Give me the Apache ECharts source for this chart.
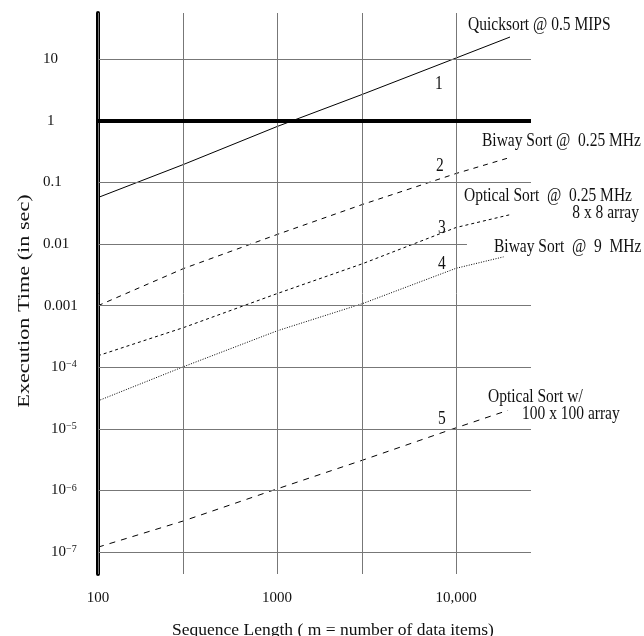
<!DOCTYPE html>
<html>
<head>
    <meta charset="utf-8"/>
    <title>Execution time vs sequence length</title>
    <script src="https://cdn.jsdelivr.net/npm/echarts@6.0.0/dist/echarts.min.js"></script>
</head>
<body style="margin:0">
<div id="chart" style="width: 644px;height:636px;"></div>
<script type="text/javascript">
    // sequence length (x) and execution time in sec (y)
    var quickX = [100, 300, 1000, 3000, 10000, 20000];
    var quickY = [0.057, 0.196, 0.81, 2.7, 10.5, 23];

    var biway025X = [100, 300, 1000, 3000, 10000, 20000];
    var biway025Y = [0.001, 0.004, 0.0143, 0.044, 0.14, 0.255];

    var optical8X = [100, 300, 1000, 3000, 10000, 20000];
    var optical8Y = [1.54e-4, 4.4e-4, 1.57e-3, 4.8e-3, 0.0186, 0.030];

    var biway9X = [100, 300, 1000, 3000, 10000, 18400];
    var biway9Y = [2.85e-5, 1.02e-4, 3.9e-4, 1.08e-3, 4.05e-3, 6.2e-3];

    var optical100X = [100, 300, 1000, 3000, 10000, 19500];
    var optical100Y = [1.2e-7, 3.2e-7, 1.06e-6, 3.1e-6, 1.04e-5, 2.0e-5];

    var xTicks = [100, 1000, 10000];
    var xTickLabels = ['100', '1000', '10,000'];
    var xGrid = [100, 300, 1000, 3000, 10000];

    var yTicks = [10, 1, 0.1, 0.01, 0.001, 1e-4, 1e-5, 1e-6, 1e-7];
    var yTickLabels = ['10', '{a|1}', '0.1', '0.01', '{b|0.001}',
        '{c|10}{s|−4}', '{c|10}{s|−5}', '{c|10}{s|−6}', '{c|10}{s|−7}'];

    var X_MIN = 100, X_MAX = 26200, Y_MIN = 4.4e-8, Y_MAX = 56.5;
    var FONT = '"Liberation Serif", "DejaVu Serif", serif';

    function pairs(xs, ys) {
        return xs.map(function (x, i) { return [x, ys[i]]; });
    }

    var gridLines = [];
    xGrid.forEach(function (x) {
        gridLines.push([{ coord: [x, Y_MIN] }, { coord: [x, Y_MAX] }]);
    });
    yTicks.forEach(function (y) {
        var end = y === 0.01 ? 11500 : X_MAX;
        var seg = [{ coord: [X_MIN, y] }, { coord: [end, y] }];
        if (y === 1) {
            seg[0].lineStyle = { color: '#000', width: 4, type: 'solid' };
        }
        gridLines.push(seg);
    });

    function lineSeries(name, data, dash) {
        return {
            name: name,
            type: 'line',
            data: data,
            symbol: 'none',
            silent: true,
            z: 3,
            lineStyle: { color: '#000', width: 1, type: dash }
        };
    }

    var series = [
        lineSeries('Quicksort @ 0.5 MIPS', pairs(quickX, quickY), 'solid'),
        lineSeries('Biway Sort @ 0.25 MHz', pairs(biway025X, biway025Y), [5, 5]),
        lineSeries('Optical Sort @ 0.25 MHz 8 x 8 array', pairs(optical8X, optical8Y), [3, 3]),
        lineSeries('Biway Sort @ 9 MHz', pairs(biway9X, biway9Y), [1, 1.5]),
        lineSeries('Optical Sort w/ 100 x 100 array', pairs(optical100X, optical100Y), [6, 6])
    ];
    series[0].markLine = {
        silent: true,
        symbol: ['none', 'none'],
        label: { show: false },
        animation: false,
        lineStyle: { color: '#777', width: 1, type: 'solid' },
        data: gridLines
    };

    function note(text, x, y, align) {
        return {
            type: 'text',
            x: x,
            y: y,
            scaleY: 1.15,
            style: {
                text: text,
                font: '15.5px ' + FONT,
                fill: '#111',
                align: align || 'left',
                verticalAlign: 'middle'
            }
        };
    }

    var option = {
        animation: false,
        backgroundColor: '#fff',
        grid: { left: 98, right: 113, top: 13, bottom: 62, outerBoundsMode: 'none', containLabel: false },
        xAxis: {
            type: 'log',
            logBase: 10,
            min: X_MIN,
            max: X_MAX,
            name: 'Sequence Length ( m = number of data items)',
            nameLocation: 'middle',
            nameGap: 47,
            nameTextStyle: { fontFamily: FONT, fontSize: 17.5, color: '#111', padding: [0, 0, 0, 37], verticalAlign: 'top' },
            axisLine: { show: false },
            axisTick: { show: false },
            splitLine: { show: false },
            axisLabel: {
                customValues: xTicks,
                margin: 17,
                fontFamily: FONT,
                fontSize: 15,
                color: '#111',
                formatter: function (v) {
                    return xTickLabels[Math.round(Math.log10(v)) - 2] || '';
                }
            }
        },
        yAxis: {
            type: 'log',
            logBase: 10,
            min: Y_MIN,
            max: Y_MAX,
            axisLine: { show: true, onZero: false, lineStyle: { color: '#000', width: 4 } },
            axisTick: { show: false },
            splitLine: { show: false },
            axisLabel: {
                customValues: yTicks,
                align: 'left',
                margin: 55,
                fontFamily: FONT,
                fontSize: 15,
                color: '#111',
                rich: {
                    a: { fontFamily: FONT, fontSize: 15, color: '#111', padding: [0, 0, 0, 4] },
                    b: { fontFamily: FONT, fontSize: 15, color: '#111', padding: [0, 0, 0, 1] },
                    c: { fontFamily: FONT, fontSize: 15, color: '#111', padding: [0, 0, 0, 8] },
                    s: { fontFamily: FONT, fontSize: 10, color: '#111', verticalAlign: 'top' }
                },
                formatter: function (v) {
                    return yTickLabels[1 - Math.round(Math.log10(v))] || '';
                }
            }
        },
        graphic: [
            {
                type: 'text',
                x: 24,
                y: 301,
                rotation: Math.PI / 2,
                scaleX: 1.27,
                style: {
                    text: 'Execution Time (in sec)',
                    font: '17.5px ' + FONT,
                    fill: '#111',
                    align: 'center',
                    verticalAlign: 'middle'
                }
            },
            note('Quicksort @ 0.5 MIPS', 468, 25),
            note('1', 435, 84),
            note('Biway Sort @  0.25 MHz', 482, 141),
            note('2', 436, 166),
            note('Optical Sort  @  0.25 MHz', 464, 196),
            note('8 x 8 array', 639, 213, 'right'),
            note('3', 438, 228),
            note('Biway Sort  @  9  MHz', 494, 247),
            note('4', 438, 264),
            note('Optical Sort w/', 488, 397),
            note('100 x 100 array', 522, 414),
            note('5', 438, 419)
        ],
        series: series
    };

    var chart = echarts.init(document.getElementById('chart'));
    chart.setOption(option);
</script>
</body>
</html>
